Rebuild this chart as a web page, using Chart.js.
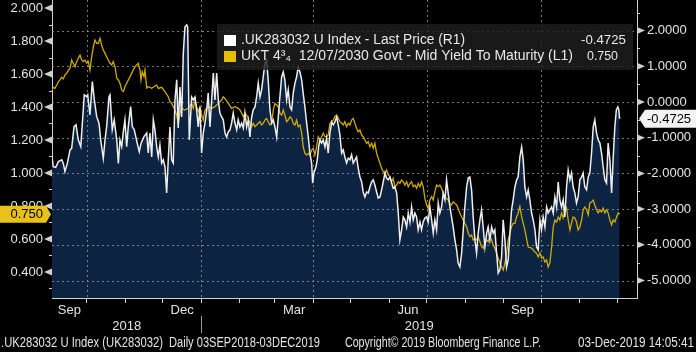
<!DOCTYPE html>
<html><head><meta charset="utf-8">
<script src="https://cdn.jsdelivr.net/npm/chart.js@4.4.1/dist/chart.umd.min.js"></script>
<style>html,body{margin:0;padding:0;background:#000;overflow:hidden}canvas{display:block}</style>
</head><body>
<canvas id="c" width="696" height="352"></canvas>
<script>
// x values are days since 2018-09-03
const whiteDays = [0,1,3,5.1,7.8,9.1,10.4,12.3,14.5,15.8,17.7,19.3,21.1,23.1,24.3,25.9,27.9,28.7,30.5,32.4,34,35.9,37.8,39.1,41.2,42.6,43.9,45.8,46.6,48.4,50,52,53.3,54.6,56,57.3,58.6,60,61.3,63.2,64.5,66.1,68.5,70.1,71.5,73.9,
76.1,77.3,78.7,80.1,81.4,82.7,84.1,85.4,86.7,88.1,89.4,90.8,92.1,93.4,94.8,96.1,97.4,98.8,100.2,101.4,102.8,104.2,105.5,106.8,108.2,109,110.3,112.2,113.5,114.9,116.2,117.5,118.9,120.2,121.5,122.9,124.3,125.5,126.9,128.3,129.6,130.9,132.3,133.6,134.9,136.3,137.6,139,140.3,141.6,143,144.3,145.6,147,148.4,149.6,
151,152.4,153.7,155,156.4,157.7,159,160.4,161.7,163.1,164.4,165.7,167.1,168.4,169.7,171.1,172.4,173.7,175.1,176.5,177.8,179.1,180.5,181.8,183.1,184.5,185.8,187.1,188.5,189.8,191.2,192.5,193.8,195.2,196.5,197.8,199.2,200.6,201.8,203.2,204.6,205.9,207.2,208.6,209.4,210.4,212,213.1,214.2,215.3,216.6,217.9,219.3,220.6,221.9,223.3,224.7,226,
227.3,228.7,230,231.3,232.7,234,235.3,236.7,238,239.4,240.7,242,243.4,244.7,246,247.4,248.8,250,251.4,252.8,254.1,255.4,256.8,258.1,259.4,260.8,262.1,263.5,264.8,266.1,267.5,268.8,270.1,271.5,272.9,274.1,275.5,276.9,278.2,279.5,280.9,282.2,283.5,284.9,286.2,287.6,288.9,290.2,291.6,292.9,294.2,295.6,296.9,298.2,299.6,301,302.2,
303.6,305,306.3,307.6,309,310.3,311.6,313,314.3,315.7,317,318.3,319.7,321,322.3,323.7,325.1,326.3,327.7,329.1,330.4,331.7,333.1,334.4,335.7,337.1,338.4,339.8,341.1,342.4,343.8,345.1,346.4,347.8,349.2,350.4,351.8,353.2,354.5,355.8,357.2,358.5,359.8,361.2,362.5,363.9,365.2,366.5,367.9,369.2,370.5,371.9,373.3,374.5,375.9,377.3,378.6,
379.9,381.3,382.6,383.9,385.3,386.6,388,389.3,390.6,392,393.3,394.6,396,397.4,398.6,400,401.4,402.7,404,405.4,406.7,408,409.4,410.7,412,413.4,414.7,416.1,417.4,418.7,420.1,421.4,422.7,424.1,425.5,426.7,428.1,429.5,430.8,432.1,433.5,434.8,436.1,437.5,438.8,440.2,441.5,442.8,444.2,445.5,446.8,448.2,449.6,450.8,452.2,453.4,454.6,455.4,456];
const whiteValues = [-1.53,-1.81,-1.83,-1.67,-1.62,-1.72,-1.95,-1.72,-1.34,-1.30,-0.69,-0.64,-1.06,-1.25,-0.64,0.20,0.15,0.20,-0.36,0.57,0.06,-0.41,-0.60,-1.06,-1.58,-1.06,-0.69,0.15,0.20,-0.78,-0.50,-1.06,-1.72,-1.06,-1.25,-0.83,-0.50,-1.25,-0.69,-0.13,-0.69,-0.78,-1.16,-1.39,-1.16,-0.97,
-0.87,-1.43,-0.87,-1.54,-0.50,-0.78,-1.26,-1.54,-1.20,-1.71,-1.62,-1.82,-2.55,-1.62,-0.70,-1.62,-1.71,0.06,0.62,-0.73,0.42,-0.42,1.37,2.10,2.16,2.10,-1.06,0.14,0.06,0.14,-0.22,-0.70,-0.14,-1.43,-0.87,-0.59,-0.22,0.25,-0.70,0.06,0.81,0.06,0.81,0.06,-0.31,-0.42,-0.50,-0.87,-0.98,-0.84,-0.78,-0.59,-0.31,-0.59,-0.78,-0.50,
-0.70,-0.59,-0.73,-0.31,-0.70,-0.50,-0.98,-0.42,-0.22,-0.14,0.14,0.53,0.14,0.34,0.70,1.09,1.18,0.62,-0.22,-0.59,-0.50,-0.70,-0.98,-0.42,0.14,0.70,0.84,0.62,0.06,0.34,-0.14,-0.22,0.25,0.53,0.70,0.98,0.84,0.62,0.25,-0.14,-0.59,-0.98,-1.43,-1.71,-2.27,-1.99,-1.82,-1.62,-1.26,-1.06,-1.15,-1.06,-1.26,-1.01,-1.43,-0.87,-0.56,-0.64,
-0.56,-0.42,-0.64,-0.92,-1.43,-1.34,-1.54,-1.71,-1.57,-1.62,-1.48,-1.71,-1.62,-1.54,-1.85,-2.10,-2.24,-2.52,-2.66,-2.52,-2.55,-2.38,-2.24,-2.18,-2.32,-2.52,-2.69,-2.66,-2.46,-2.24,-1.99,-2.13,-2.18,-2.10,-2.27,-2.41,-2.38,-2.55,-3.11,-3.86,-3.58,-3.22,-3.30,-3.50,-3.11,-3.36,-2.94,-3.30,-3.11,-3.22,-3.58,-3.36,-3.58,-3.36,-3.25,-3.22,-3.36,
-2.94,-3.30,-3.67,-3.30,-3.58,-2.83,-3.11,-2.94,-2.55,-2.74,-2.18,-2.55,-2.94,-3.22,-3.50,-3.86,-4.14,-4.51,-4.62,-4.23,-3.58,-2.94,-2.38,-2.13,-2.10,-2.46,-3.22,-3.86,-4.23,-3.67,-3.30,-3.02,-3.50,-4.06,-3.67,-3.50,-3.86,-3.50,-3.67,-3.58,-4.23,-4.79,-4.70,-4.34,-3.30,-3.86,-4.62,-4.42,-3.67,-3.02,-2.74,-2.38,-2.18,-2.10,-1.54,-1.26,-1.62,
-2.38,-2.66,-2.46,-2.74,-3.11,-3.30,-3.58,-4.06,-4.14,-3.30,-3.58,-3.22,-3.50,-2.94,-3.11,-3.02,-2.94,-3.11,-2.66,-2.94,-2.24,-2.74,-2.94,-2.74,-3.22,-2.38,-1.90,-2.18,-1.99,-2.38,-2.55,-2.83,-2.66,-2.18,-2.10,-1.99,-2.38,-2.46,-2.10,-1.99,-1.43,-0.70,-0.50,-0.87,-1.06,-1.15,-1.43,-1.82,-2.18,-2.27,-1.15,-1.62,-2.55,-1.62,-0.70,-0.22,-0.14,-0.22,-0.4725];

const yellowDays = [0,1,2.4,3.8,5.1,6.4,7.8,9.1,10.4,11.8,13.1,14.5,15.8,17.1,18.5,19.8,21.1,22.5,23.9,25.1,26.5,27.9,29.2,30.5,31.9,33.2,34.5,35.9,37.2,38.6,39.9,41.2,42.6,43.9,45.2,46.6,48,49.2,50.6,52,53.3,54.6,56,57.3,58.6,60,61.3,62.7,64,65.3,66.7,68,69.3,70.7,71.5,72.5,73.9,74.7,
76.1,77.3,80.1,82.7,84.1,85.4,88.1,90.8,93.4,94.8,96.1,98.8,100.2,101.4,102.8,104.2,106.8,109.4,112.2,113.5,114.9,116.2,117.5,118.9,120.2,121.5,122.9,125.5,128.3,130.9,133.6,136.3,137.6,139,141.6,144.3,147,149.6,
151,152.4,153.7,155,156.4,157.7,159,160.4,161.7,163.1,164.4,165.7,167.1,168.4,169.7,171.1,172.4,173.7,175.1,176.5,177.8,179.1,180.5,181.8,183.1,184.5,185.8,187.1,188.5,189.8,191.2,192.5,193.8,195.2,196.5,197.8,199.2,200.6,201.8,203.2,204.6,205.9,207.2,208.6,209.9,211.2,212.6,213.9,215.3,216.6,217.9,219.3,220.6,221.9,223.3,224.7,226,
227.3,228.7,230,231.3,232.7,234,235.3,236.7,238,239.4,240.7,242,243.4,244.7,246,247.4,248.8,250,251.4,252.8,254.1,255.4,256.8,258.1,259.4,260.8,262.1,263.5,264.8,266.1,267.5,268.8,270.1,271.5,272.9,274.1,275.5,276.9,278.2,279.5,280.9,282.2,283.5,284.9,286.2,287.6,288.9,290.2,291.6,292.9,294.2,295.6,296.9,298.2,299.6,301,302.2,
303.6,305,306.3,307.6,309,310.3,311.6,313,314.3,315.7,317,318.3,319.7,321,322.3,323.7,325.1,326.3,327.7,329.1,330.4,331.7,333.1,334.4,335.7,337.1,338.4,339.8,341.1,342.4,343.8,345.1,346.4,347.8,349.2,350.4,351.8,353.2,354.5,355.8,357.2,358.5,359.8,361.2,362.5,363.9,365.2,366.5,367.9,369.2,370.5,371.9,373.3,374.5,375.9,377.3,378.6,
379.9,382.6,385.3,388,389.3,390.6,392,393.3,394.6,396,397.4,398.6,400,401.4,402.7,404,405.4,406.7,408,409.4,410.7,412,413.4,414.7,416.1,417.4,418.7,420.1,421.4,422.7,424.1,425.5,426.7,428.1,429.5,430.8,432.1,433.5,434.8,436.1,437.5,438.8,440.2,441.5,442.8,444.2,445.5,446.8,448.2,449.6,450.8,452.2,453.6,454.9,456];
const yellowValues = [1.503,1.519,1.513,1.533,1.553,1.564,1.580,1.570,1.594,1.604,1.620,1.635,1.685,1.665,1.644,1.675,1.695,1.715,1.685,1.675,1.685,1.665,1.675,1.624,1.705,1.765,1.806,1.786,1.786,1.816,1.776,1.745,1.725,1.705,1.685,1.665,1.655,1.675,1.644,1.574,1.564,1.544,1.503,1.493,1.523,1.544,1.564,1.584,1.604,1.624,1.644,1.655,1.665,1.624,1.564,1.614,1.584,1.624,
1.515,1.523,1.513,1.527,1.533,1.513,1.519,1.493,1.462,1.432,1.422,1.382,1.351,1.301,1.362,1.392,1.382,1.392,1.422,1.392,1.442,1.402,1.371,1.402,1.351,1.321,1.382,1.402,1.392,1.402,1.422,1.442,1.462,1.452,1.422,1.392,1.402,1.392,
1.382,1.362,1.341,1.362,1.351,1.331,1.301,1.281,1.301,1.281,1.291,1.301,1.311,1.291,1.301,1.321,1.331,1.311,1.291,1.301,1.382,1.422,1.412,1.402,1.362,1.351,1.382,1.351,1.311,1.321,1.341,1.331,1.301,1.291,1.321,1.281,1.291,1.241,1.159,1.119,1.109,1.119,1.109,1.139,1.150,1.109,1.159,1.220,1.200,1.220,1.241,1.220,1.220,1.230,1.301,1.311,1.321,
1.341,1.351,1.331,1.311,1.301,1.291,1.311,1.281,1.301,1.291,1.321,1.331,1.301,1.271,1.250,1.261,1.230,1.220,1.200,1.180,1.190,1.159,1.180,1.150,1.180,1.119,1.089,1.059,1.028,1.008,0.998,1.018,0.988,0.978,0.947,0.968,0.917,0.927,0.947,0.937,0.958,0.947,0.927,0.947,0.917,0.937,0.947,0.917,0.927,0.907,0.937,0.917,0.947,0.917,0.846,0.806,0.786,
0.836,0.856,0.836,0.887,0.927,0.917,0.927,0.907,0.877,0.846,0.846,0.836,0.816,0.806,0.826,0.816,0.806,0.786,0.756,0.735,0.715,0.695,0.675,0.635,0.614,0.624,0.594,0.604,0.594,0.614,0.584,0.553,0.543,0.574,0.594,0.584,0.614,0.594,0.564,0.543,0.513,0.483,0.453,0.432,0.412,0.453,0.513,0.594,0.635,0.675,0.695,0.695,0.735,0.756,0.796,0.735,0.695,
0.655,0.551,0.545,0.521,0.513,0.491,0.515,0.485,0.491,0.461,0.473,0.430,0.455,0.551,0.673,0.715,0.703,0.733,0.715,0.758,0.727,0.764,0.788,0.715,0.655,0.697,0.733,0.727,0.703,0.655,0.673,0.715,0.776,0.794,0.776,0.746,0.818,0.824,0.836,0.806,0.776,0.758,0.776,0.764,0.788,0.758,0.776,0.758,0.715,0.685,0.715,0.703,0.733,0.758,0.750];

const seriesNames = ['.UK283032 U Index - Last Price (R1)', 'UKT 4\u00B3\u2084  12/07/2030 Govt - Mid Yield To Maturity (L1)'];
// month start days (since 2018-09-03); first entry = data start
const monthStarts = [0,28,59,89,120,151,179,210,240,271,301,332,363,393,424,454,485];
const monthNames = ['Sep','Oct','Nov','Dec','Jan','Feb','Mar','Apr','May','Jun','Jul','Aug','Sep','Oct','Nov','Dec'];
const labeledMonths = [0,3,6,9,12];
const quarterStarts = [28,120,210,301,393];
const yearLabels = ['2018','2019'];
const yearStartDay = 120;
const leftTicks = [0.3,0.4,0.5,0.6,0.7,0.8,0.9,1.0,1.1,1.2,1.3,1.4,1.5,1.6,1.7,1.8,1.9,2.0];
const rightTicks = [-5,-4.5,-4,-3.5,-3,-2.5,-2,-1.5,-1,-0.5,0,0.5,1,1.5,2,2.5];
const footerTexts = ['.UK283032 U Index (UK283032)','Daily 03SEP2018-03DEC2019','Copyright\u00A9 2019 Bloomberg Finance L.P.','03-Dec-2019 14:05:41'];

const X_MIN = 0, X_MAX = 470;
const L_MIN = 0.2424, L_MAX = 2.0485;
const R_MIN = -5.489, R_MAX = 2.856;

const FONT = "'Liberation Sans', Arial, sans-serif";
const TXT = '#e4e4e4';
const AXC = '#cfcfcf';

const xLabelMap = new Map();
labeledMonths.forEach(i => xLabelMap.set((monthStarts[i] + monthStarts[i+1]) / 2, monthNames[i]));
const xTickVals = [...monthStarts.slice(1).filter(d => d <= X_MAX), ...xLabelMap.keys()].sort((a,b)=>a-b);
const isLeftMajor = v => v >= 0.39 && Math.round(v*10) % 2 === 0;
const pts = (d, v) => d.map((x, i) => ({x, y: v[i]}));

function fitText(ctx, text, x, y, w, align) {
  const m = ctx.measureText(text).width;
  ctx.save();
  ctx.translate(x, y);
  ctx.scale(w / m, 1);
  ctx.textAlign = 'left';
  ctx.fillText(text, align === 'right' ? -m : 0, 0);
  ctx.restore();
}

const decor = {
  id: 'decor',
  afterDatasetDraw(chart, args) {
    if (args.index !== 0) return;
    const {ctx, chartArea: a, scales} = chart;
    ctx.save();
    ctx.beginPath(); ctx.rect(a.left, a.top, a.right - a.left, a.bottom - a.top); ctx.clip();
    ctx.strokeStyle = 'rgba(150,150,150,0.8)'; ctx.lineWidth = 1; ctx.setLineDash([2, 3]);
    rightTicks.filter(v => Number.isInteger(v)).forEach(v => {
      const y = Math.round(scales.yR.getPixelForValue(v)) + 0.5;
      ctx.beginPath(); ctx.moveTo(a.left, y); ctx.lineTo(a.right, y); ctx.stroke();
    });
    quarterStarts.forEach(d => {
      const x = Math.round(scales.x.getPixelForValue(d)) + 0.5;
      ctx.beginPath(); ctx.moveTo(x, a.top); ctx.lineTo(x, a.bottom); ctx.stroke();
    });
    ctx.restore();
  },
  afterDraw(chart) {
    const {ctx, chartArea: a, scales: {x, yL, yR}} = chart;
    ctx.save();
    ctx.fillStyle = AXC; ctx.strokeStyle = AXC; ctx.lineWidth = 1;
    // axis markers
    leftTicks.forEach(v => {
      const y = yL.getPixelForValue(v);
      if (isLeftMajor(v)) {
        ctx.beginPath(); ctx.moveTo(a.left - 8, y); ctx.lineTo(a.left, y - 3.5); ctx.lineTo(a.left, y + 3.5); ctx.closePath(); ctx.fill();
      } else {
        const yy = Math.round(y) + 0.5;
        ctx.beginPath(); ctx.moveTo(a.left - 3, yy); ctx.lineTo(a.left, yy); ctx.stroke();
      }
    });
    rightTicks.forEach(v => {
      const y = yR.getPixelForValue(v);
      if (Number.isInteger(v)) {
        ctx.beginPath(); ctx.moveTo(a.right + 8, y); ctx.lineTo(a.right, y - 3.5); ctx.lineTo(a.right, y + 3.5); ctx.closePath(); ctx.fill();
      } else {
        const yy = Math.round(y) + 0.5;
        ctx.beginPath(); ctx.moveTo(a.right, yy); ctx.lineTo(a.right + 3, yy); ctx.stroke();
      }
    });
    // year separator
    const sx = Math.round(x.getPixelForValue(yearStartDay)) + 0.5;
    ctx.strokeStyle = '#9a9a9a';
    ctx.beginPath(); ctx.moveTo(sx, 316); ctx.lineTo(sx, 333); ctx.stroke();

    // legend box
    ctx.fillStyle = 'rgba(30,30,30,0.82)';
    ctx.fillRect(217, 24, 416, 46);
    ctx.fillStyle = '#ffffff'; ctx.fillRect(224, 35, 12, 11);
    ctx.fillStyle = '#e6c000'; ctx.fillRect(224, 51, 12, 11);
    ctx.fillStyle = '#e8e8e8';
    ctx.textBaseline = 'middle';
    ctx.font = '14px ' + FONT;
    fitText(ctx, seriesNames[0], 241, 40.5, 224);
    fitText(ctx, seriesNames[1], 241, 56.5, 332);
    const wLast = whiteValues[whiteValues.length - 1];
    const yLast = yellowValues[yellowValues.length - 1];
    ctx.font = '13px ' + FONT;
    fitText(ctx, wLast.toFixed(4), 581, 40.5, 45);
    fitText(ctx, yLast.toFixed(3), 587, 56.5, 31);

    // last value tags
    const ty = yL.getPixelForValue(yLast);
    ctx.fillStyle = '#e8c21a';
    ctx.beginPath(); ctx.moveTo(0, ty - 8.5); ctx.lineTo(46, ty - 8.5); ctx.lineTo(51, ty); ctx.lineTo(46, ty + 8.5); ctx.lineTo(0, ty + 8.5); ctx.closePath(); ctx.fill();
    ctx.fillStyle = '#000';
    ctx.textAlign = 'right';
    ctx.fillText(yLast.toFixed(3), 43, ty + 0.5);
    const wy = yR.getPixelForValue(wLast);
    ctx.fillStyle = '#f2f2f2';
    ctx.beginPath(); ctx.moveTo(639, wy); ctx.lineTo(645, wy - 9); ctx.lineTo(696, wy - 9); ctx.lineTo(696, wy + 9); ctx.lineTo(645, wy + 9); ctx.closePath(); ctx.fill();
    ctx.fillStyle = '#000';
    ctx.textAlign = 'left';
    ctx.fillText(wLast.toFixed(4), 647, wy + 0.5);

    // footer
    ctx.fillStyle = '#e4e4e4';
    ctx.font = '14px ' + FONT;
    fitText(ctx, footerTexts[0], 1, 343, 162);
    fitText(ctx, footerTexts[1], 169, 343, 151);
    fitText(ctx, footerTexts[2], 345, 343, 196);
    fitText(ctx, footerTexts[3], 578, 343, 116);
    ctx.restore();
  }
};

const tickFont = {family: FONT, size: 13};
new Chart(document.getElementById('c'), {
  type: 'line',
  data: {
    datasets: [
      {label: 'area', data: pts(whiteDays, whiteValues), yAxisID: 'yR', xAxisID: 'x', borderWidth: 0, pointRadius: 0, fill: 'start', backgroundColor: '#0c2442', order: 3},
      {label: seriesNames[0], data: pts(whiteDays, whiteValues), yAxisID: 'yR', xAxisID: 'x', borderColor: '#eeeeee', borderWidth: 1.5, pointRadius: 0, fill: false, order: 1},
      {label: seriesNames[1], data: pts(yellowDays, yellowValues), yAxisID: 'yL', xAxisID: 'x', borderColor: '#d0aa00', borderWidth: 1.3, pointRadius: 0, fill: false, order: 2}
    ]
  },
  options: {
    responsive: false, animation: false, events: [],
    layout: {padding: 0, autoPadding: false},
    plugins: {legend: {display: false}, tooltip: {enabled: false}},
    scales: {
      x: {
        type: 'linear', position: 'bottom', min: X_MIN, max: X_MAX, weight: 0,
        afterBuildTicks: s => { s.ticks = xTickVals.map(v => ({value: v})); },
        afterFit: s => { s.height = 20; s.paddingLeft = 0; s.paddingRight = 0; },
        ticks: {autoSkip: false, maxRotation: 0, padding: 0, color: TXT, font: tickFont,
          callback: v => xLabelMap.get(v) || ''},
        grid: {display: true, drawOnChartArea: false, drawTicks: true, tickLength: 5,
          tickColor: c => (c.tick && xLabelMap.has(c.tick.value)) ? 'rgba(0,0,0,0)' : AXC},
        border: {display: true, color: AXC, width: 1}
      },
      xYear: {
        type: 'linear', axis: 'x', position: 'bottom', min: X_MIN, max: X_MAX, weight: 1,
        afterBuildTicks: s => { s.ticks = [{value: (X_MIN + yearStartDay) / 2}, {value: (yearStartDay + X_MAX) / 2}]; },
        afterFit: s => { s.height = 34; s.paddingLeft = 0; s.paddingRight = 0; },
        ticks: {autoSkip: false, maxRotation: 0, padding: 1, color: TXT, font: tickFont,
          callback: (v, i) => yearLabels[i]},
        grid: {display: false, drawTicks: false},
        border: {display: false}
      },
      yL: {
        type: 'linear', position: 'left', min: L_MIN, max: L_MAX,
        afterBuildTicks: s => { s.ticks = leftTicks.map(v => ({value: v})); },
        afterFit: s => { s.width = 52; s.paddingTop = 0; s.paddingBottom = 0; },
        ticks: {autoSkip: false, padding: 1, color: TXT, font: tickFont,
          callback: v => isLeftMajor(v) ? v.toFixed(3) : ''},
        grid: {display: true, drawOnChartArea: false, drawTicks: true, tickLength: 8, tickColor: 'rgba(0,0,0,0)'},
        border: {display: true, color: AXC, width: 1}
      },
      yR: {
        type: 'linear', position: 'right', min: R_MIN, max: R_MAX,
        afterBuildTicks: s => { s.ticks = rightTicks.map(v => ({value: v})); },
        afterFit: s => { s.width = 59; s.paddingTop = 0; s.paddingBottom = 0; },
        ticks: {autoSkip: false, padding: 2, color: TXT, font: tickFont,
          callback: v => Number.isInteger(v) ? v.toFixed(4) : ''},
        grid: {display: true, drawOnChartArea: false, drawTicks: true, tickLength: 8, tickColor: 'rgba(0,0,0,0)'},
        border: {display: true, color: AXC, width: 1}
      }
    }
  },
  plugins: [decor]
});
</script>
</body></html>
